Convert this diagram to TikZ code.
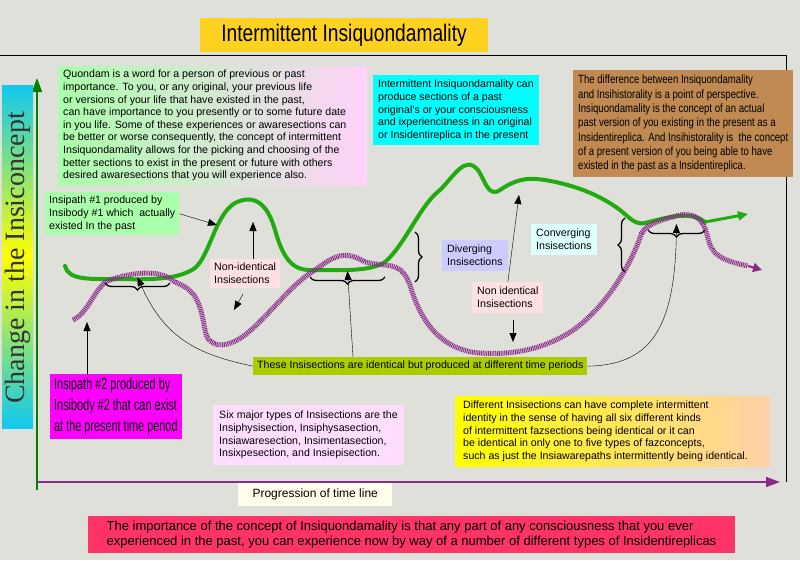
\documentclass[tikz,border=0pt]{standalone}
\usepackage{fontspec}
\setmainfont{Liberation Sans}
\newfontfamily\narrow[FakeStretch=0.8]{Liberation Sans}
\newfontfamily\condx[FakeStretch=0.68]{Liberation Sans}
\newfontfamily\serifx{Liberation Serif}
\usetikzlibrary{decorations.pathreplacing,arrows.meta}
\definecolor{bg}{HTML}{E0E0DA}
\definecolor{gpath}{HTML}{22AA11}
\definecolor{ppath}{HTML}{8A2B8A}
\definecolor{ttl}{HTML}{FFD21F}
\definecolor{lgreen}{HTML}{AAFFAA}
\definecolor{lpink}{HTML}{FFD2FA}
\definecolor{brownb}{HTML}{C08A52}
\definecolor{rosy}{HTML}{FFE0E0}
\definecolor{lilac}{HTML}{CCCCFF}
\definecolor{lcyan}{HTML}{DDFFFF}
\definecolor{olive}{HTML}{AACC00}
\definecolor{sixc}{HTML}{FFDDFF}
\definecolor{peach}{HTML}{FFD0AA}
\definecolor{cream}{HTML}{FFFFEB}
\definecolor{redb}{HTML}{FF3366}
\definecolor{ycyan}{HTML}{10C8F0}
\definecolor{cyanb}{HTML}{00FFFF}
\definecolor{magb}{HTML}{FF00FF}
\definecolor{yelb}{HTML}{FFFF00}
\begin{document}
\begin{tikzpicture}[x=1pt,y=-1pt,
 box/.style={inner sep=0pt,anchor=north west,align=left},
 thinar/.style={-{Triangle[length=9pt,width=7pt]},black,thin},
 br/.style={decorate,decoration={brace,amplitude=7pt},line width=1.3pt},
 gp/.style={gpath,line width=4pt,line cap=round},
 pp/.style={ppath,line width=5pt,dash pattern=on 1pt off 0.8pt},
 txt/.style={font=\fontsize{10.6}{12.6}\selectfont},
]
\fill[bg] (0,0) rectangle (800,560);
\useasboundingbox (0,0) rectangle (800,560);
% frame
\draw[line width=1pt] (0,55) -- (786,55) -- (786,482);
% axes
\draw[green!50!black,line width=1.5pt,-{Triangle[length=14pt,width=10pt]}] (37,490) -- (37,78);
\draw[ppath,line width=1.8pt,-{Triangle[length=14pt,width=10pt]}] (37,482) -- (780,482);
% y label
\shade[top color=ycyan,bottom color=ycyan,middle color=yelb] (2,85) rectangle (33,428);
\node[rotate=90,font=\serifx\fontsize{28}{28}\selectfont,text=black!80] (ylab) at (17.5,258) {Change in the Insiconcept};
% boxes
\fill[ttl] (200,18) rectangle (488,52);
\node[font=\narrow\fontsize{24}{24}\selectfont] (title) at (344,35) {Intermittent Insiquondamality};
\shade[left color=lgreen,right color=lpink] (58,66) rectangle (367,185);
\node[box,txt] (quon) at (63,70) {Quondam is a word for a person of previous or past\\importance. To you, or any original, your previous life\\or versions of your life that have existed in the past,\\can have importance to you presently or to some future date\\in you life. Some of these experiences or awaresections can\\be better or worse consequently, the concept of intermittent\\Insiquondamality allows for the picking and choosing of the\\better sections to exist in the present or future with others\\desired awaresections that you will experience also.};
\node[box,fill=lgreen,inner sep=4pt,txt] (ip1) at (45,192) {Insipath \#1 produced by\\Insibody \#1 which\ \ actually\\existed In the past};
\node[box,fill=cyanb,inner sep=5pt,txt] (cy) at (373,75) {Intermittent Insiquondamality can\\produce sections of a past\\original's or your consciousness\\and ixperiencitness in an original\\or Insidentireplica in the present};
\node[box,fill=brownb,inner sep=5pt,font=\narrow\fontsize{12}{14.3}\selectfont] (brown) at (573,70) {The difference between Insiquondamality\\and Insihistorality is a point of perspective.\\Insiquondamality is the concept of an actual\\past version of you existing in the present as a\\Insidentireplica. And Insihistorality is\ \ the concept\\of a present version of you being able to have\\existed in the past as a Insidentireplica.};
\node[box,fill=rosy,inner sep=4pt,txt] (ni1) at (210,259) {Non-identical\\Insisections};
\node[box,fill=lilac,inner sep=5pt,txt] (div) at (442,240) {Diverging\\Insisections};
\node[box,fill=lcyan,inner sep=5pt,txt] (conv) at (531,224) {Converging\\Insisections};
\node[box,fill=rosy,inner sep=5pt,txt] (ni2) at (472,282) {Non identical\\Insisections};
\node[box,fill=olive,inner sep=4pt,txt] (same) at (253,357) {These Insisections are identical but produced at different time periods};
\node[box,fill=magb,inner sep=4pt,font=\condx\fontsize{16}{21}\selectfont] (ip2) at (50,374) {Insipath \#2 produced by\\Insibody \#2 that can exist\\at the present time period};
\node[box,fill=sixc,inner sep=6pt,txt] (six) at (213,405) {Six major types of Insisections are the\\Insiphysisection, Insiphysasection,\\Insiawaresection, Insimentasection,\\Insixpesection, and Insiepisection.};
\shade[left color=yelb,right color=peach] (455,396) rectangle (770,466);
\node[box,txt] (diff) at (463,401) {Different Insisections can have complete intermittent\\identity in the sense of having all six different kinds\\of intermittent fazsections being identical or it can\\be identical in only one to five types of fazconcepts,\\such as just the Insiawarepaths intermittently being identical.};
\node[box,fill=cream,inner sep=6pt,minimum width=154pt,font=\fontsize{12}{14}\selectfont] (prog) at (238,483) {Progression of time line};
\fill[redb] (88,516) rectangle (735,553);
\node[align=left,font=\fontsize{13}{15.5}\selectfont] (imp) at (411.5,534.5) {The importance of the concept of Insiquondamality is that any part of any consciousness that you ever\\experienced in the past, you can experience now by way of a number of different types of Insidentireplicas};
% paths
\draw[gp] (65,266) .. controls (68,280) and (90,279) .. (110,279)
 .. controls (140,279) and (175,282) .. (195,268)
 .. controls (210,255) and (215,215) .. (235,203)
 .. controls (255,193) and (268,205) .. (275,230)
 .. controls (283,258) and (292,270) .. (310,270)
 .. controls (340,270) and (370,272) .. (385,262)
 .. controls (405,245) and (420,205) .. (440,190)
 .. controls (455,175) and (465,155) .. (478,170)
 .. controls (485,180) and (488,198) .. (500,190)
 .. controls (515,180) and (525,177) .. (545,180)
 .. controls (575,185) and (600,195) .. (620,210)
 .. controls (630,218) and (635,225) .. (645,223)
 .. controls (665,218) and (690,210) .. (705,222);
\draw[gpath,line width=3pt,-{Triangle[length=10pt,width=9pt]}] (705,222) -- (748,214);
\draw[pp] (73,320) .. controls (90,312) and (95,285) .. (110,280)
 .. controls (130,273) and (160,268) .. (175,282)
 .. controls (195,290) and (200,300) .. (205,330)
 .. controls (208,350) and (228,348) .. (245,335)
 .. controls (270,315) and (290,285) .. (315,270)
 .. controls (335,255) and (345,250) .. (365,262)
 .. controls (390,268) and (400,260) .. (410,285)
 .. controls (420,320) and (440,350) .. (480,353)
 .. controls (520,356) and (555,345) .. (580,325)
 .. controls (610,300) and (630,265) .. (640,238)
 .. controls (642,225) and (660,220) .. (680,215)
 .. controls (705,212) and (705,230) .. (710,245)
 .. controls (715,258) and (730,262) .. (748,266);
\draw[ppath,line width=2pt,-{Triangle[length=9pt,width=9pt]}] (748,266) -- (762,270);
% braces
\draw[br] (170,283) -- (105,283) coordinate[pos=0.5] (b1);
\draw[br] (385,277) -- (310,277) coordinate[pos=0.5] (b2);
\draw[br] (415,232) -- (415,282);
\draw[br] (625,272) -- (625,218);
\draw[br] (705,230) -- (648,230) coordinate[pos=0.5] (b3);
% arrows
\coordinate (t1) at (217,225); \coordinate (t2) at (253,222); \coordinate (t3) at (234,310);
\coordinate (t4) at (519,195); \coordinate (t5) at (513,342); \coordinate (t6) at (87,322);
\coordinate (f2) at (253,259); \coordinate (f3) at (243,294); \coordinate (f5) at (513,320);
\coordinate (f6) at (87,374); \coordinate (f7) at (353,357);
\draw[thinar] (ip1.east) -- (t1);
\draw[thinar] (f2) -- (t2);
\draw[thinar] (f3) -- (t3);
\draw[thinar] (ni2.north) -- (t4);
\draw[thinar] (f5) -- (t5);
\draw[thinar] (f6) -- (t6);
\draw[thinar] (same.west) .. controls (200,355) and (165,340) .. ([yshift=6pt]b1);
\draw[thinar] (f7) -- ([yshift=6pt]b2);
\draw[thinar] (same.east) .. controls (650,365) and (675,330) .. ([yshift=6pt]b3);
\end{tikzpicture}
\end{document}
